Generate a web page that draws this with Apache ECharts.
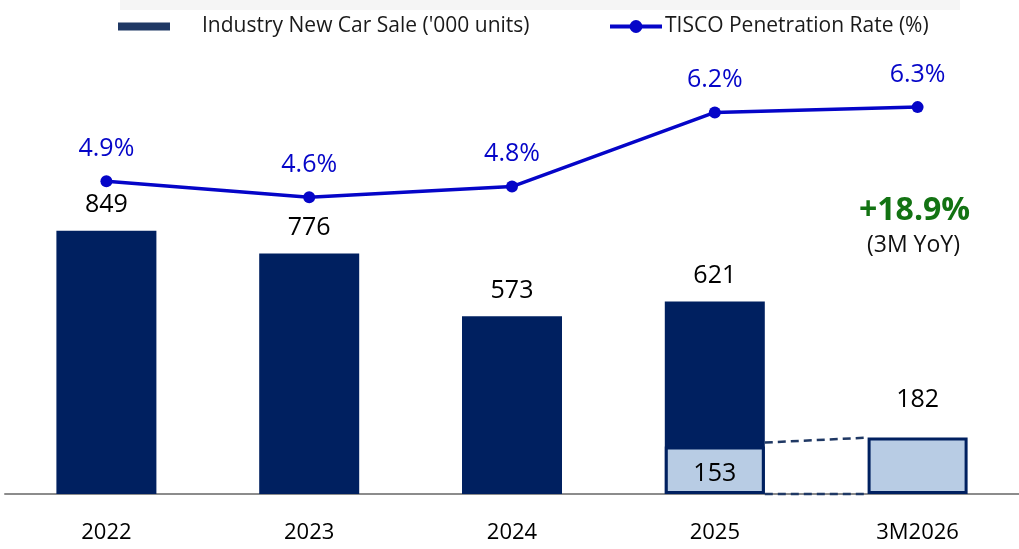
<!DOCTYPE html>
<html>
<head>
<meta charset="utf-8">
<script src="https://cdn.jsdelivr.net/npm/echarts@6/dist/echarts.min.js"></script>
<style>
    html, body { margin: 0; padding: 0; background: #fff; }
    #main { width: 1019px; height: 549px; }
</style>
</head>
<body>
<div id="main"></div>
<script>
const categories = ['2022', '2023', '2024', '2025', '3M2026']
const carSale = [849, 776, 573, 621, null]
const threeMonth = [null, null, null, 153, 182]
const penetration = [4.9, 4.6, 4.8, 6.2, 6.3]

const navy = '#002060'
const light = '#B8CCE4'
const blue = '#0505C8'
const BAR_W = 100

const chart = echarts.init(document.getElementById('main'))
chart.setOption({
    animation: false,
    textStyle: { fontFamily: 'Open Sans' },
    grid: { left: 5, right: 0, top: 29, bottom: 55 },
    legend: [{
        data: [{ name: "Industry New Car Sale ('000 units)", icon: 'rect', itemStyle: { color: '#1F3864' } }],
        left: 118,
        top: 16,
        padding: 0,
        itemWidth: 52,
        itemHeight: 8,
        textStyle: { fontFamily: 'Open Sans', fontSize: 21, color: '#1a1a1a', padding: [0, 0, 0, 27] }
    }, {
        data: ["TISCO Penetration Rate (%)"],
        left: 608,
        top: 16,
        padding: 0,
        itemWidth: 52,
        itemHeight: 16,
        lineStyle: { width: 4 },
        textStyle: { fontFamily: 'Open Sans', fontSize: 21, color: '#1a1a1a', padding: [0, 0, 0, -2] }
    }],
    xAxis: {
        type: 'category',
        data: categories,
        axisLine: { lineStyle: { color: '#8c8c8c', width: 2 } },
        axisTick: { show: false },
        axisLabel: { color: '#000', fontSize: 22, margin: 28 }
    },
    yAxis: [{
        type: 'value', min: 0, max: 1500, show: false
    }, {
        type: 'value', min: -1, max: 7.774, show: false
    }],
    graphic: [{
        type: 'rect',
        shape: { x: 120, y: 0, width: 840, height: 10 },
        style: { fill: '#f5f5f5' },
        silent: true
    }, {
        type: 'text',
        left: 859,
        top: 195,
        style: { text: '+18.9%', fill: '#137313', font: 'bold 32px "Open Sans"' }
    }, {
        type: 'text',
        left: 867,
        top: 234,
        style: { text: '(3M YoY)', fill: '#111', font: '23px "Open Sans"' }
    }],
    series: [{
        name: "Industry New Car Sale ('000 units)",
        type: 'bar',
        data: carSale,
        barWidth: BAR_W,
        itemStyle: { color: navy },
        label: { show: true, position: 'top', distance: 13, color: '#000', fontSize: 25 }
    }, {
        name: '3M',
        type: 'bar',
        barGap: '-100%',
        barWidth: BAR_W,
        data: threeMonth.map((v, i) => v === null ? null : {
            value: v,
            label: i === 3
                ? { show: true, position: 'inside', color: '#000', fontSize: 25, offset: [0, 4] }
                : { show: true, position: 'top', distance: 25, color: '#000', fontSize: 25 }
        }),
        itemStyle: { color: light, borderColor: navy, borderWidth: 3 },
        z: 3
    }, {
        name: 'connector',
        type: 'custom',
        data: [[3, threeMonth[3], 4, threeMonth[4]]],
        renderItem: function (params, api) {
            const a = api.coord([api.value(0), api.value(1)])
            const b = api.coord([api.value(2), api.value(3)])
            const base = api.coord([api.value(0), 0])
            const half = BAR_W / 2
            const style = { stroke: '#1F3864', lineWidth: 2.5, lineDash: [8, 5] }
            return {
                type: 'group',
                children: [{
                    type: 'line',
                    shape: { x1: a[0] + half, y1: a[1] - 4, x2: b[0] - half, y2: b[1] },
                    style: style
                }, {
                    type: 'line',
                    shape: { x1: a[0] + half, y1: base[1], x2: b[0] - half, y2: base[1] },
                    style: style
                }]
            }
        },
        z: 4,
        silent: true
    }, {
        name: 'TISCO Penetration Rate (%)',
        type: 'line',
        yAxisIndex: 1,
        data: penetration,
        symbol: 'circle',
        symbolSize: 12,
        lineStyle: { color: blue, width: 3.5 },
        itemStyle: { color: blue },
        label: { show: true, position: 'top', distance: 14, color: blue, fontSize: 25, formatter: '{c}%' },
        z: 5
    }]
})
</script>
</body>
</html>
